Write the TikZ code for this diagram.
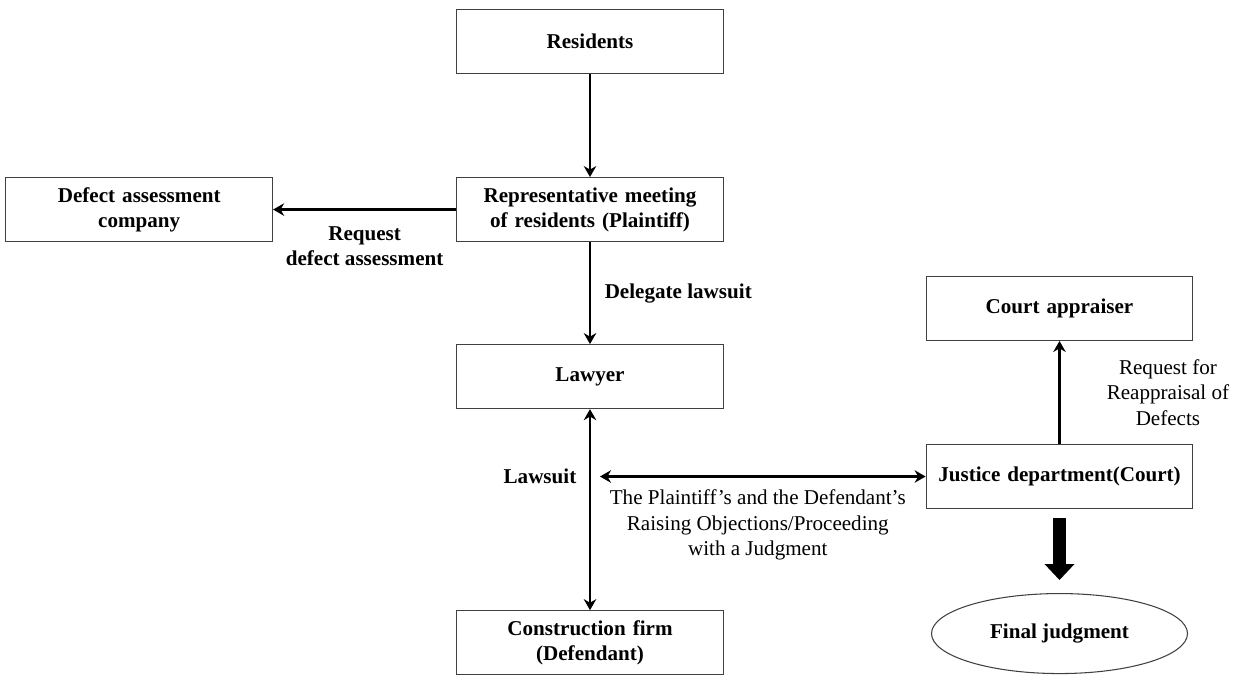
\documentclass[tikz,border=0pt]{standalone}
\usepackage{fontspec}
\setmainfont{Liberation Serif}
\usepackage{tikz}
\usetikzlibrary{shapes.geometric,arrows,arrows.meta,positioning}

\begin{document}
\begin{tikzpicture}[
    node distance=2.06cm,
    box/.style={rectangle, draw=black!75, line width=0.6pt, text width=5.1cm, align=center, minimum width=5.32cm, minimum height=1.28cm, font=\fontsize{12}{14.2}\selectfont\bfseries},
    result/.style={ellipse, draw=black!75, line width=0.6pt, minimum width=5.12cm, minimum height=1.6cm, font=\fontsize{12}{14.2}\selectfont\bfseries},
    lbl/.style={align=center, font=\fontsize{12}{14.2}\selectfont\bfseries},
    note/.style={align=center, font=\fontsize{12}{14.6}\selectfont},
    arrow/.style={line width=1.6pt,->,>={Stealth[length=0.22cm,width=0.25cm]}},
    bigarrow/.style={line width=0.26cm, -{Triangle[width=0.58cm,length=0.32cm]}}
]
\useasboundingbox (0,0) rectangle (24.88,-13.5);

% Boxes
\node[box] at (11.8,-0.83) (res) {Residents};
\node[box, below=of res] (rep) {Representative meeting\\of residents (Plaintiff)};
\node[box, left=3.66cm of rep] (defect) {Defect assessment\\company};
\node[box, below=2.04cm of rep] (lawyer) {Lawyer};
\node[box, below=4.02cm of lawyer] (firm) {Construction firm\\(Defendant)};

\node[box] at (21.19,-9.53) (court) {Justice department(Court)};
\node[box, above=of court] (appraiser) {Court appraiser};
\node[result, below=1.68cm of court] (final) {Final judgment};

% Arrows
\draw[arrow] (res) -- (rep);
\draw[arrow] (rep) -- (defect) node[lbl, midway, below=0.2cm] (reqlbl) {Request\\defect assessment};
\draw[arrow] (rep) -- (lawyer) node[lbl, midway, right=0.15cm] (dellbl) {Delegate lawsuit};
\draw[arrow,<->] (lawyer) -- (firm);
\node[lbl, left=0.15cm] at (lawyer.south |- court.west) (lawsuitlbl) {Lawsuit};
\draw[arrow,<->,shorten <=0.2cm] (lawyer.south |- court.west) -- (court.west)
    node[note, midway, below=0.12cm] (objlbl) {The Plaintiff's and the Defendant's\\Raising Objections/Proceeding\\with a Judgment};
\draw[arrow] (court) -- (appraiser) node[note, midway, right=0.8cm] (reapplbl) {Request for\\Reappraisal of\\Defects};
\draw[bigarrow, shorten <=0.18cm, shorten >=0.26cm] (court) -- (final);

\end{tikzpicture}
\end{document}
